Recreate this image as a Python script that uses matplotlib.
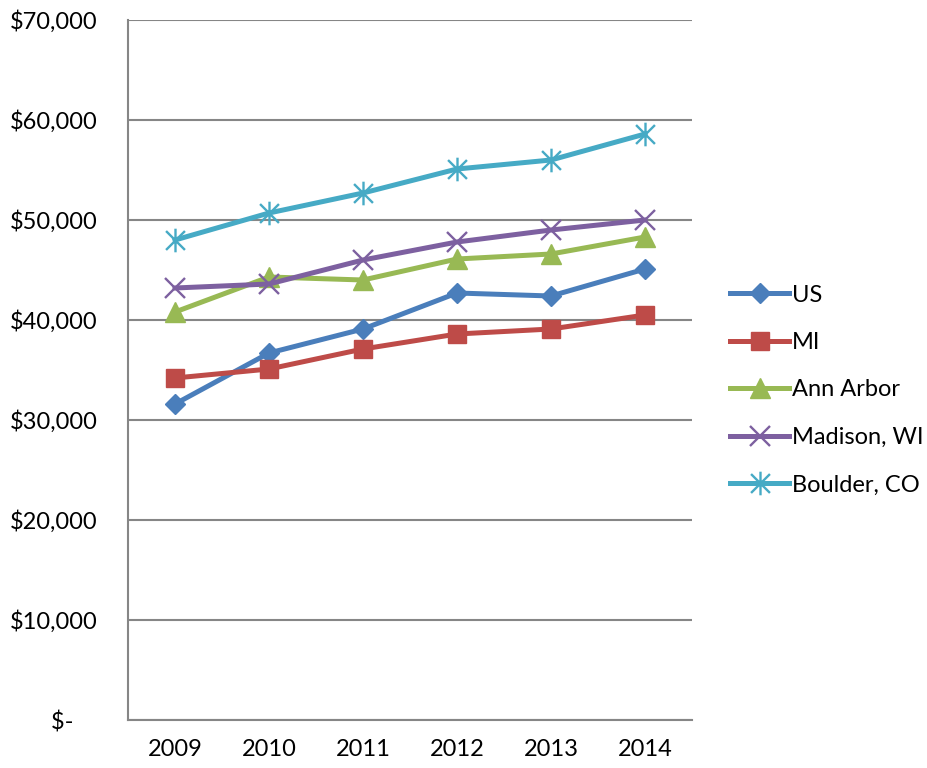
import matplotlib.pyplot as plt
from matplotlib.path import Path

years = ["2009", "2010", "2011", "2012", "2013", "2014"]

us = [31600, 36700, 39100, 42700, 42400, 45100]
mi = [34200, 35100, 37100, 38600, 39100, 40500]
ann_arbor = [40800, 44300, 44000, 46100, 46600, 48300]
madison = [43200, 43600, 46000, 47800, 49000, 50000]
boulder = [48000, 50700, 52700, 55100, 56000, 58600]

y_ticks = [0, 10000, 20000, 30000, 40000, 50000, 60000, 70000]

plt.rcParams['font.family'] = ['Lato', 'DejaVu Sans']

# asterisk marker like Excel's "star": vertical bar plus an X
star = Path([(0, -1), (0, 1), (-0.8, -0.8), (0.8, 0.8), (-0.8, 0.8), (0.8, -0.8)],
            [Path.MOVETO, Path.LINETO, Path.MOVETO, Path.LINETO, Path.MOVETO, Path.LINETO])

fig = plt.figure(figsize=(9.28, 7.68), dpi=100)
ax = fig.add_axes([128 / 928, 48 / 768, 564 / 928, 700 / 768])

x = range(len(years))
lw = 3.6
ax.plot(x, us, color="#4A7EBB", lw=lw, marker="D", ms=10, label="US", zorder=3)
ax.plot(x, mi, color="#BE4B48", lw=lw, marker="s", ms=13.5, label="MI", zorder=3)
ax.plot(x, ann_arbor, color="#98B954", lw=lw, marker="^", ms=14.5, label="Ann Arbor", zorder=3)
ax.plot(x, madison, color="#7D60A0", lw=lw, marker="x", ms=14, mew=1.7, label="Madison, WI", zorder=3)
ax.plot(x, boulder, color="#46AAC5", lw=lw, marker=star, ms=17, mew=1.7, label="Boulder, CO", zorder=3)

ax.set_xlim(-0.5, len(years) - 0.5)
ax.set_ylim(0, 70000)
ax.set_xticks(list(x))
ax.set_xticklabels(years)
ax.set_yticks(y_ticks)
ax.set_yticklabels(["$-    "] + ["${:,}".format(v) for v in y_ticks[1:]])
ax.tick_params(axis="both", length=0, labelsize=17, colors="black")
ax.tick_params(axis="y", pad=22)
ax.tick_params(axis="x", pad=14)

ax.grid(axis="y", color="#868686", lw=1.5, zorder=1)
for side in ["top", "right"]:
    ax.spines[side].set_visible(False)
for side in ["left", "bottom"]:
    ax.spines[side].set_color("#868686")
    ax.spines[side].set_linewidth(1.5)

ax.legend(loc="center left", bbox_to_anchor=(709 / 928, 1 - 390 / 768),
          bbox_transform=fig.transFigure, frameon=False, fontsize=17,
          handlelength=2.5, handletextpad=0.1, labelspacing=1.12)

fig.savefig("out.png", dpi=100)
